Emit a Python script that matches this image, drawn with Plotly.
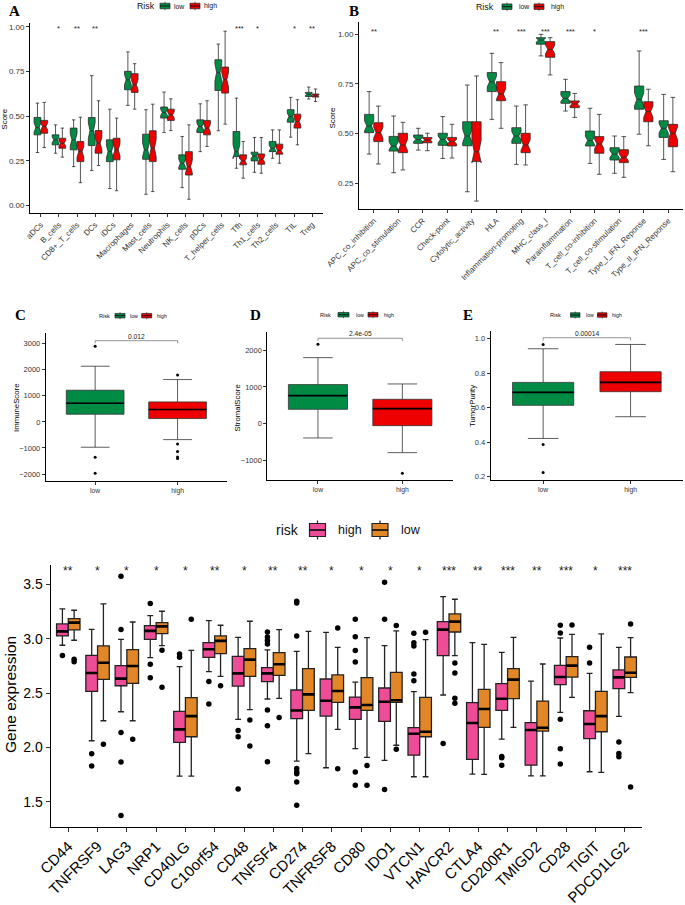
import plotly.graph_objects as go

# ---------------- DATA ----------------
# Panel A (immune cells), notched boxes, groups low / high
a_cats = ["aDCs", "B_cells", "CD8+_T_cells", "DCs", "iDCs", "Macrophages", "Mast_cells",
          "Neutrophils", "NK_cells", "pDCs", "T_helper_cells", "Tfh", "Th1_cells",
          "Th2_cells", "TIL", "Treg"]
a_low_lo = [0.296, 0.292, 0.217, 0.195, 0.094, 0.560, 0.062, 0.408, 0.099, 0.301, 0.418, 0.208, 0.185, 0.264, 0.382, 0.596]
a_low_q1 = [0.395, 0.339, 0.311, 0.335, 0.245, 0.648, 0.258, 0.489, 0.202, 0.408, 0.644, 0.273, 0.249, 0.301, 0.466, 0.610]
a_low_med = [0.436, 0.367, 0.367, 0.419, 0.301, 0.704, 0.311, 0.521, 0.236, 0.442, 0.745, 0.301, 0.277, 0.320, 0.498, 0.622]
a_low_q3 = [0.4925, 0.395, 0.433, 0.4925, 0.367, 0.751, 0.399, 0.551, 0.283, 0.479, 0.816, 0.414, 0.298, 0.358, 0.536, 0.633]
a_low_hi = [0.573, 0.451, 0.479, 0.727, 0.539, 0.860, 0.536, 0.635, 0.386, 0.569, 0.904, 0.601, 0.380, 0.423, 0.605, 0.663]
a_high_lo = [0.324, 0.270, 0.127, 0.223, 0.082, 0.539, 0.077, 0.419, 0.034, 0.330, 0.455, 0.152, 0.180, 0.236, 0.339, 0.582]
a_high_q1 = [0.404, 0.320, 0.245, 0.292, 0.255, 0.633, 0.245, 0.476, 0.170, 0.395, 0.629, 0.227, 0.230, 0.287, 0.433, 0.607]
a_high_med = [0.442, 0.348, 0.301, 0.348, 0.311, 0.676, 0.320, 0.507, 0.217, 0.433, 0.704, 0.249, 0.258, 0.307, 0.470, 0.614]
a_high_q3 = [0.476, 0.376, 0.358, 0.419, 0.376, 0.738, 0.418, 0.539, 0.301, 0.476, 0.775, 0.283, 0.288, 0.343, 0.511, 0.624]
a_high_hi = [0.577, 0.433, 0.494, 0.586, 0.489, 0.794, 0.567, 0.597, 0.451, 0.586, 0.976, 0.358, 0.380, 0.423, 0.592, 0.652]
a_stars = ["", "*", "**", "**", "", "", "", "", "", "", "", "***", "*", "", "*", "**"]

# Panel B (immune functions)
b_cats = ["APC_co_inhibition", "APC_co_stimulation", "CCR", "Check-point", "Cytolytic_activity",
          "HLA", "Inflammation-promoting", "MHC_class_I", "Parainflammation",
          "T_cell_co-inhibition", "T_cell_co-stimulation", "Type_I_IFN_Reponse", "Type_II_IFN_Reponse"]
b_low_lo = [0.396, 0.302, 0.416, 0.374, 0.206, 0.571, 0.344, 0.891, 0.613, 0.349, 0.299, 0.496, 0.369]
b_low_q1 = [0.504, 0.411, 0.450, 0.440, 0.438, 0.711, 0.450, 0.950, 0.652, 0.437, 0.366, 0.622, 0.480]
b_low_med = [0.538, 0.437, 0.470, 0.470, 0.487, 0.761, 0.487, 0.971, 0.677, 0.464, 0.396, 0.672, 0.526]
b_low_q3 = [0.596, 0.485, 0.492, 0.501, 0.559, 0.807, 0.529, 0.983, 0.711, 0.512, 0.428, 0.739, 0.564]
b_low_hi = [0.711, 0.588, 0.526, 0.585, 0.744, 0.904, 0.638, 1.000, 0.773, 0.627, 0.487, 0.916, 0.697]
b_high_lo = [0.346, 0.316, 0.413, 0.376, 0.159, 0.526, 0.341, 0.795, 0.581, 0.294, 0.279, 0.438, 0.307]
b_high_q1 = [0.459, 0.403, 0.453, 0.437, 0.358, 0.665, 0.403, 0.884, 0.630, 0.400, 0.353, 0.559, 0.433]
b_high_med = [0.504, 0.442, 0.467, 0.459, 0.408, 0.699, 0.442, 0.924, 0.649, 0.447, 0.379, 0.610, 0.501]
b_high_q3 = [0.554, 0.501, 0.479, 0.480, 0.559, 0.761, 0.501, 0.963, 0.664, 0.484, 0.418, 0.660, 0.546]
b_high_hi = [0.638, 0.556, 0.501, 0.546, 0.790, 0.857, 0.644, 0.983, 0.702, 0.596, 0.484, 0.723, 0.682]
b_stars = ["**", "", "", "", "", "**", "***", "***", "***", "*", "", "***", ""]

n_per_group = 32  # sample size used for notch span (1.58*IQR/sqrt(n))

# Panels C, D, E (low, high)
ce_groups = ["low", "high"]
c_lo = [-972, -680]; c_q1 = [294, 128]; c_med = [716, 473]; c_q3 = [1215, 767]; c_hi = [2136, 1624]
c_out = [[2903, -1355, -1969], [1803, -844, -1138, -1343, -1407]]
c_p = "0.012"
d_lo = [-391, -791]; d_q1 = [391, -55]; d_med = [764, 409]; d_q3 = [1064, 664]; d_hi = [1800, 1082]
d_out = [[2164], [-1355]]
d_p = "2.4e-05"
e_lo = [0.422, 0.548]; e_q1 = [0.614, 0.693]; e_med = [0.689, 0.747]; e_q3 = [0.747, 0.809]; e_hi = [0.942, 0.967]
e_out = [[0.967, 0.387, 0.225], []]
e_p = "0.00014"

# Panel F (checkpoint genes), risk high / low
f_genes = ["CD44", "TNFRSF9", "LAG3", "NRP1", "CD40LG", "C10orf54", "CD48", "TNFSF4", "CD274",
           "TNFRSF8", "CD80", "IDO1", "VTCN1", "HAVCR2", "CTLA4", "CD200R1", "TMIGD2", "CD28",
           "TIGIT", "PDCD1LG2"]
f_high_lo = [2.939, 2.061, 2.328, 2.825, 1.736, 2.696, 2.258, 2.445, 1.874, 1.813, 1.988, 1.880, 1.730, 2.482, 1.755, 2.077, 1.739, 2.322, 1.776, 2.285]
f_high_q1 = [3.025, 2.515, 2.567, 2.994, 2.046, 2.828, 2.564, 2.604, 2.264, 2.288, 2.258, 2.239, 1.929, 2.844, 1.890, 2.340, 1.837, 2.577, 2.080, 2.540]
f_high_med = [3.067, 2.684, 2.632, 3.071, 2.166, 2.902, 2.681, 2.681, 2.340, 2.429, 2.368, 2.420, 2.126, 3.083, 2.224, 2.448, 2.160, 2.647, 2.215, 2.644]
f_high_q3 = [3.135, 2.847, 2.752, 3.120, 2.331, 2.963, 2.837, 2.733, 2.528, 2.629, 2.463, 2.546, 2.181, 3.156, 2.411, 2.586, 2.227, 2.755, 2.337, 2.712]
f_high_hi = [3.273, 3.086, 2.994, 3.212, 2.742, 3.166, 3.012, 2.896, 2.883, 3.058, 2.601, 2.936, 2.512, 3.387, 2.963, 2.874, 2.610, 3.006, 2.681, 2.920]
f_low_lo = [2.985, 2.245, 2.245, 2.936, 1.736, 2.653, 2.347, 2.451, 1.942, 2.166, 1.908, 2.020, 1.730, 2.844, 1.752, 2.184, 1.739, 2.460, 1.770, 2.503]
f_low_q1 = [3.080, 2.626, 2.589, 3.046, 2.098, 2.862, 2.653, 2.663, 2.340, 2.414, 2.340, 2.414, 2.098, 3.061, 2.184, 2.448, 2.150, 2.647, 2.144, 2.644]
f_low_med = [3.147, 2.779, 2.748, 3.113, 2.288, 2.979, 2.807, 2.764, 2.488, 2.518, 2.390, 2.433, 2.144, 3.156, 2.353, 2.623, 2.181, 2.752, 2.288, 2.687]
f_low_q3 = [3.184, 2.933, 2.899, 3.147, 2.457, 3.025, 2.908, 2.871, 2.724, 2.666, 2.641, 2.690, 2.460, 3.227, 2.534, 2.724, 2.426, 2.834, 2.515, 2.831]
f_low_hi = [3.261, 3.319, 3.153, 3.252, 2.893, 3.123, 3.160, 3.083, 3.067, 2.920, 3.009, 3.071, 2.991, 3.362, 2.948, 3.012, 2.767, 3.040, 3.043, 3.009]
f_high_out = [[2.844], [1.942, 1.828], [3.574, 3.083, 2.138, 1.865, 1.374], [3.322, 2.764, 2.641],
              [2.859, 2.828], [2.607, 2.399], [2.156, 2.098, 1.617],
              [3.061, 3.015, 2.982, 2.951, 2.344, 2.199, 1.868],
              [3.344, 3.328, 3.025, 1.807, 1.776, 1.758, 1.681, 1.469], [],
              [3.178, 3.018, 2.890, 2.785, 1.773, 1.653], [3.518, 3.178, 1.613],
              [3.049, 2.963, 2.933, 2.675, 2.613], [2.037], [], [1.917, 1.905, 1.837], [],
              [3.123, 3.052, 2.258, 1.988, 1.847], [2.920, 2.776], [2.049, 1.945, 1.914]]
f_low_out = [[2.810, 2.788], [2.028], [2.074], [2.893, 2.552], [3.178], [2.567], [2.252, 2.012],
             [2.276], [], [3.098, 1.804], [1.834, 1.653], [3.120, 1.982], [3.058],
             [2.776, 2.684, 2.451, 2.405], [], [], [], [3.126], [], [3.135, 1.635]]
f_stars = ["**", "*", "*", "*", "*", "**", "*", "**", "**", "*", "*", "*", "*", "***", "**",
           "***", "**", "***", "*", "***"]

# ---------------- STYLE / LAYOUT ----------------
W, H = 685, 905
GREEN, RED, PINK, ORANGE = "#008B45", "#EE0000", "#EE4C97", "#E18727"
FONT = "Liberation Sans"
SERIF = "Liberation Serif"


def X(px):
    return px / W


def Y(py):
    return 1 - py / H


fig = go.Figure()


def add_boxes(xs, q1, med, q3, lo, hi, color, ax, ay, width, lw, lcolor, notched=False):
    kw = {}
    if notched:
        kw = dict(notched=True, notchwidth=0.25,
                  notchspan=[1.58 * (b - a) / n_per_group ** 0.5 for a, b in zip(q1, q3)])
    fig.add_trace(go.Box(x=xs, q1=q1, median=med, q3=q3, lowerfence=lo, upperfence=hi,
                         fillcolor=color, line=dict(color=lcolor, width=lw), width=width,
                         boxpoints=False, xaxis=ax, yaxis=ay, showlegend=False,
                         hoverinfo="skip", **kw))


def add_medians(xs, med, width, ax, ay, lw):
    mx, my = [], []
    for c, m in zip(xs, med):
        mx += [c - width / 2, c + width / 2, None]
        my += [m, m, None]
    fig.add_trace(go.Scatter(x=mx, y=my, mode="lines", line=dict(color="black", width=lw),
                             xaxis=ax, yaxis=ay, showlegend=False, hoverinfo="skip"))


def add_outliers(xs, outs, ax, ay, size):
    ox, oy = [], []
    for c, vals in zip(xs, outs):
        for v in vals:
            ox.append(c)
            oy.append(v)
    fig.add_trace(go.Scatter(x=ox, y=oy, mode="markers", marker=dict(color="black", size=size),
                             xaxis=ax, yaxis=ay, showlegend=False, hoverinfo="skip"))


def add_stars(xs, stars, yv, ax, ay, size):
    for c, s in zip(xs, stars):
        if s:
            fig.add_annotation(x=c, y=yv, xref=ax, yref=ay, text=s, showarrow=False,
                               font=dict(size=size, color="#222"), xanchor="center",
                               yanchor="middle")


def axis(dom, lw, fs, color, **extra):
    d = dict(domain=dom, showline=True, linecolor="black", linewidth=lw, ticks="outside",
             ticklen=3, tickwidth=lw, tickcolor="#333", showgrid=False, zeroline=False,
             automargin=False, tickfont=dict(size=fs, color=color, family=FONT))
    d.update(extra)
    return d


# ---- Panel A ----
a_idx = list(range(len(a_cats)))
offA = 0.1875
add_boxes([i - offA for i in a_idx], a_low_q1, a_low_med, a_low_q3, a_low_lo, a_low_hi,
          GREEN, "x", "y", 0.375, 0.8, "#2a2a2a", notched=True)
add_boxes([i + offA for i in a_idx], a_high_q1, a_high_med, a_high_q3, a_high_lo, a_high_hi,
          RED, "x", "y", 0.375, 0.8, "#2a2a2a", notched=True)
add_stars(a_idx, a_stars, 0.99, "x", "y", 7.5)

# ---- Panel B ----
b_idx = list(range(len(b_cats)))
add_boxes([i - offA for i in b_idx], b_low_q1, b_low_med, b_low_q3, b_low_lo, b_low_hi,
          GREEN, "x2", "y2", 0.375, 0.8, "#2a2a2a", notched=True)
add_boxes([i + offA for i in b_idx], b_high_q1, b_high_med, b_high_q3, b_high_lo, b_high_hi,
          RED, "x2", "y2", 0.375, 0.8, "#2a2a2a", notched=True)
add_stars(b_idx, b_stars, 1.013, "x2", "y2", 7.5)

# ---- Panels C, D, E ----
ce_idx = list(range(len(ce_groups)))
ce_sets = [
    ("x3", "y3", c_lo, c_q1, c_med, c_q3, c_hi, c_out),
    ("x4", "y4", d_lo, d_q1, d_med, d_q3, d_hi, d_out),
    ("x5", "y5", e_lo, e_q1, e_med, e_q3, e_hi, e_out),
]
for ax, ay, lo, q1, med, q3, hi, outs in ce_sets:
    for k, col in zip(ce_idx, [GREEN, RED]):
        add_boxes([k], [q1[k]], [med[k]], [q3[k]], [lo[k]], [hi[k]], col, ax, ay, 0.7, 0.8, "#333")
    add_medians(ce_idx, med, 0.7, ax, ay, 1.6)
    add_outliers(ce_idx, outs, ax, ay, 3)

# p-value brackets (y level and tick depth per panel)
bracket_y = {"3": (3115, 100, c_p), "4": (2327, 70, d_p), "5": (1.006, 0.016, e_p)}
for n, (yb, t, txt) in bracket_y.items():
    xr, yr = "x" + n, "y" + n
    for (x0, y0, x1, y1) in [(0, yb, 1, yb), (0, yb, 0, yb - t), (1, yb, 1, yb - t)]:
        fig.add_shape(type="line", xref=xr, yref=yr, x0=x0, y0=y0, x1=x1, y1=y1,
                      line=dict(color="#777", width=0.8))
    fig.add_annotation(x=0.5, y=yb, xref=xr, yref=yr, text=txt, showarrow=False,
                       xanchor="center", yanchor="bottom", yshift=-1,
                       font=dict(size=6.7, color="#222"))

# ---- Panel F ----
f_idx = list(range(len(f_genes)))
offF = 0.2
xs_h = [i - offF for i in f_idx]
xs_l = [i + offF for i in f_idx]
add_boxes(xs_h, f_high_q1, f_high_med, f_high_q3, f_high_lo, f_high_hi, PINK, "x6", "y6", 0.4, 1.3, "#222")
add_boxes(xs_l, f_low_q1, f_low_med, f_low_q3, f_low_lo, f_low_hi, ORANGE, "x6", "y6", 0.4, 1.3, "#222")
add_medians(xs_h, f_high_med, 0.4, "x6", "y6", 2.6)
add_medians(xs_l, f_low_med, 0.4, "x6", "y6", 2.6)
add_outliers(xs_h, f_high_out, "x6", "y6", 5.5)
add_outliers(xs_l, f_low_out, "x6", "y6", 5.5)
add_stars(f_idx, f_stars, 3.622, "x6", "y6", 12)

# ---------------- AXES ----------------
lay = dict(
    xaxis=axis([X(30), X(323)], 0.8, 8, "#333", anchor="y", range=[-0.6, 15.6],
               tickvals=a_idx, ticktext=a_cats, tickangle=-45),
    yaxis=axis([Y(213), Y(23)], 0.8, 8, "#333", anchor="x", range=[-0.043, 1.022],
               tickvals=[0, 0.25, 0.5, 0.75, 1.0], tickformat=".2f"),
    xaxis2=axis([X(359), X(683)], 0.8, 8, "#333", anchor="y2", range=[-0.6, 12.6],
                tickvals=b_idx, ticktext=b_cats, tickangle=-45),
    yaxis2=axis([Y(209), Y(22.4)], 0.8, 8, "#333", anchor="x2", range=[0.119, 1.06],
                tickvals=[0.25, 0.5, 0.75, 1.0], tickformat=".2f"),
    xaxis3=axis([X(45.7), X(227)], 0.8, 6.8, "#333", anchor="y3", range=[-0.6, 1.6],
                tickvals=ce_idx, ticktext=ce_groups),
    yaxis3=axis([Y(481), Y(333.3)], 0.8, 7.5, "#333", anchor="x3", range=[-2268, 3399],
                tickvals=[-2000, -1000, 0, 1000, 2000, 3000]),
    xaxis4=axis([X(267.3), X(453)], 0.8, 6.8, "#333", anchor="y4", range=[-0.6, 1.6],
                tickvals=ce_idx, ticktext=ce_groups),
    yaxis4=axis([Y(480.3), Y(331.7)], 0.8, 7.5, "#333", anchor="x4", range=[-1545, 2507],
                tickvals=[-1000, 0, 1000, 2000]),
    xaxis5=axis([X(490.7), X(683)], 0.8, 6.8, "#333", anchor="y5", range=[-0.6, 1.6],
                tickvals=ce_idx, ticktext=ce_groups),
    yaxis5=axis([Y(480), Y(331)], 0.8, 7.5, "#333", anchor="x5", range=[0.181, 1.045],
                tickvals=[0.2, 0.4, 0.6, 0.8, 1.0], tickformat=".1f"),
    xaxis6=axis([X(50.7), X(642.3)], 1.3, 15, "black", anchor="y6", range=[-0.6, 19.6],
                tickvals=f_idx, ticktext=f_genes, tickangle=-45, ticklen=4),
    yaxis6=axis([Y(826.7), Y(565)], 1.3, 14, "black", anchor="x6", range=[1.271, 3.677],
                tickvals=[1.5, 2.0, 2.5, 3.0, 3.5], tickformat=".1f", ticklen=4),
)
fig.update_layout(**lay)

# ---------------- TEXT: panel letters, axis titles ----------------
for letter, (px, py) in {"A": (14, 11), "B": (353.5, 11), "C": (20, 315), "D": (256, 315),
                         "E": (468, 315)}.items():
    fig.add_annotation(x=X(px), y=Y(py), xref="paper", yref="paper", text="<b>%s</b>" % letter,
                       showarrow=False, xanchor="center", yanchor="middle",
                       font=dict(family=SERIF, size=15, color="black"))

for txt, (px, py), fs in [("Score", (4.7, 119), 8), ("Score", (331.5, 118), 8),
                          ("ImmuneScore", (16, 407), 7.8), ("StromalScore", (236.5, 408), 7.8),
                          ("TumorPurity", (472, 406), 7.8), ("Gene expression", (10, 695), 15.5)]:
    fig.add_annotation(x=X(px), y=Y(py), xref="paper", yref="paper", text=txt, textangle=-90,
                       showarrow=False, xanchor="center", yanchor="middle",
                       font=dict(family=FONT, size=fs, color="black"))


# ---------------- LEGENDS (drawn) ----------------
def key(x0, x1, yc, h, whisk, color, lw):
    xm = (x0 + x1) / 2
    fig.add_shape(type="line", xref="paper", yref="paper", x0=X(xm), x1=X(xm),
                  y0=Y(yc - h / 2 - whisk), y1=Y(yc + h / 2 + whisk),
                  line=dict(color="#222", width=lw))
    fig.add_shape(type="rect", xref="paper", yref="paper", x0=X(x0), x1=X(x1),
                  y0=Y(yc - h / 2), y1=Y(yc + h / 2), fillcolor=color,
                  line=dict(color="#222", width=lw))
    fig.add_shape(type="line", xref="paper", yref="paper", x0=X(x0), x1=X(x1),
                  y0=Y(yc), y1=Y(yc), line=dict(color="#111", width=lw * 1.4))


def label(txt, px, py, fs, anchor="left"):
    fig.add_annotation(x=X(px), y=Y(py), xref="paper", yref="paper", text=txt,
                       showarrow=False, xanchor=anchor, yanchor="middle",
                       font=dict(family=FONT, size=fs, color="#111"))


legend_specs = [
    # title_right, y, key1, label1_x, key2, label2_x, keyh, whisk, title fs, label fs
    (157, 6, (160, 170), 172, (190, 200), 202, 5.5, 1.5, 8.8, 6.9),
    (496, 6.7, (502, 512), 517, (534, 544), 549, 5.5, 1.5, 8.8, 6.9),
    (111.7, 315.7, (115, 125), 128, (141.7, 151.7), 155, 4.5, 1.2, 5.6, 5.2),
    (333.3, 314.7, (338, 349), 354, (368, 378), 382, 4.5, 1.2, 5.6, 5.2),
    (562.7, 315, (570.5, 580), 584, (597.5, 607), 609.5, 4.5, 1.2, 5.6, 5.2),
]
for tr, yc, k1, l1, k2, l2, kh, wk, tfs, lfs in legend_specs:
    label("Risk", tr, yc, tfs, anchor="right")
    key(k1[0], k1[1], yc, kh, wk, GREEN, 0.7)
    label("low", l1, yc, lfs)
    key(k2[0], k2[1], yc, kh, wk, RED, 0.7)
    label("high", l2, yc, lfs)

label("risk", 274, 530, 14)
key(309.5, 325.5, 530, 13, 3, PINK, 1.2)
label("high", 336, 530, 12.5)
key(372, 388, 530, 13, 3, ORANGE, 1.2)
label("low", 399, 530, 12.5)

fig.update_layout(template="none", width=W, height=H, margin=dict(l=0, r=0, t=0, b=0),
                  showlegend=False, paper_bgcolor="white", plot_bgcolor="white",
                  font=dict(family=FONT))

fig.write_html("out.html", config={"displayModeBar": False},
               post_script="document.body.style.margin='0px';document.body.style.overflow='hidden';")
